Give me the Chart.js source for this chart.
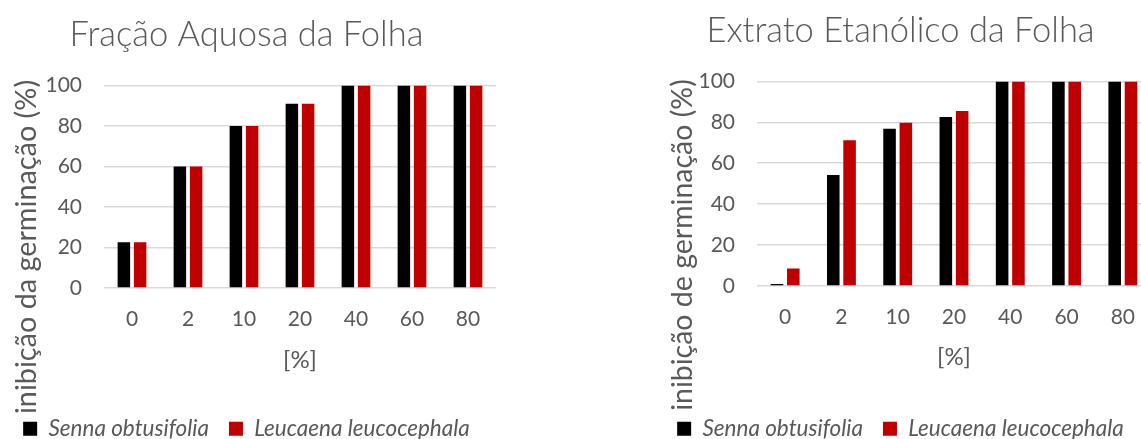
<!DOCTYPE html>
<html>
<head>
<meta charset="utf-8">
<script src="https://cdn.jsdelivr.net/npm/chart.js@4"></script>
<style>
  html, body { margin: 0; padding: 0; background: #fff; overflow: hidden; width: 1141px; height: 439px; }
  .box { position: absolute; top: 0; width: 504px; height: 450px; }
  #boxA { left: -3px; }
  #boxB { left: 650px; }
</style>
</head>
<body>
<div class="box" id="boxA"><canvas id="chartA" width="504" height="450"></canvas></div>
<div class="box" id="boxB"><canvas id="chartB" width="504" height="450"></canvas></div>
<script>
// dados
const categories = ['0', '2', '10', '20', '40', '60', '80'];
const seriesNames = ['Senna obtusifolia', 'Leucaena leucocephala'];
const aquosaSenna = [22.6, 60, 80, 91, 100, 100, 100];
const aquosaLeucaena = [22.6, 60, 80, 91, 100, 100, 100];
const etanolicoSenna = [1, 54.3, 76.9, 82.6, 100, 100, 100];
const etanolicoLeucaena = [8.5, 71.2, 79.8, 85.5, 100, 100, 100];
const yMin = 0, yMax = 100, yStep = 20;

const gray = '#595959';
const FONT = 'Lato, Carlito, Calibri, sans-serif';

// título do eixo y desenhado à mão (no Excel ele não fica centrado na área do gráfico)
const yTitlePlugin = {
    id: 'yTitle',
    afterDraw(chart, args, opts) {
        const ctx = chart.ctx;
        ctx.save();
        ctx.translate(opts.x, opts.y);
        ctx.rotate(-Math.PI / 2);
        ctx.font = opts.size + 'px ' + FONT;
        ctx.fillStyle = gray;
        ctx.textAlign = 'center';
        ctx.textBaseline = 'middle';
        ctx.fillText(opts.text, 0, 0);
        ctx.restore();
    }
};

const drawBars = (id, title, yTitle, senna, leucaena, cfg) => {
    new Chart(document.getElementById(id), {
        type: 'bar',
        data: {
            labels: categories,
            datasets: [
                { label: seriesNames[0], data: senna, backgroundColor: '#000000' },
                { label: seriesNames[1], data: leucaena, backgroundColor: '#C00000' }
            ]
        },
        plugins: [yTitlePlugin],
        options: {
            responsive: false,
            animation: false,
            devicePixelRatio: 1,
            categoryPercentage: 0.58,
            barPercentage: 0.77,
            layout: { padding: { left: 0, right: cfg.padRight, top: 0, bottom: 0 } },
            plugins: {
                tooltip: { enabled: false },
                yTitle: { text: yTitle, x: cfg.yTitleX, y: cfg.yTitleY, size: cfg.yTitleSize },
                title: {
                    display: true,
                    text: title,
                    color: gray,
                    font: { family: FONT, size: 34.5, weight: '300' },
                    padding: { top: cfg.padTop, bottom: 30 }
                },
                legend: {
                    position: 'bottom',
                    labels: {
                        color: gray,
                        font: { family: FONT, size: 22.5, style: 'italic' },
                        boxWidth: 14,
                        boxHeight: 14,
                        padding: 20
                    }
                }
            },
            scales: {
                x: {
                    grid: { display: false },
                    border: { display: false },
                    ticks: { color: gray, font: { family: FONT, size: 21 }, padding: 11 },
                    title: {
                        display: true,
                        text: '[%]',
                        color: gray,
                        font: { family: FONT, size: 24 },
                        padding: { top: 0, bottom: cfg.xTitlePad }
                    },
                    afterFit: (s) => { s.height = cfg.xHeight; }
                },
                y: {
                    min: yMin,
                    max: yMax,
                    grid: { color: '#D9D9D9', lineWidth: 1.5, drawTicks: false },
                    border: { display: false },
                    ticks: { stepSize: yStep, color: gray, font: { family: FONT, size: 21 }, padding: 22 },
                    afterFit: (s) => { s.width = 107; }
                }
            }
        }
    });
};

drawBars('chartA', 'Fração Aquosa da Folha', 'inibição da germinação (%)', aquosaSenna, aquosaLeucaena,
    { padTop: 14, xHeight: 109.5, padRight: 5, xTitlePad: 23, yTitleX: 30, yTitleY: 247, yTitleSize: 28.8 });
drawBars('chartB', 'Extrato Etanólico da Folha', 'inibição de germinação (%)', etanolicoSenna, etanolicoLeucaena,
    { padTop: 10, xHeight: 111.5, padRight: 3, xTitlePad: 26, yTitleX: 33, yTitleY: 245, yTitleSize: 28.5 });
</script>
</body>
</html>
